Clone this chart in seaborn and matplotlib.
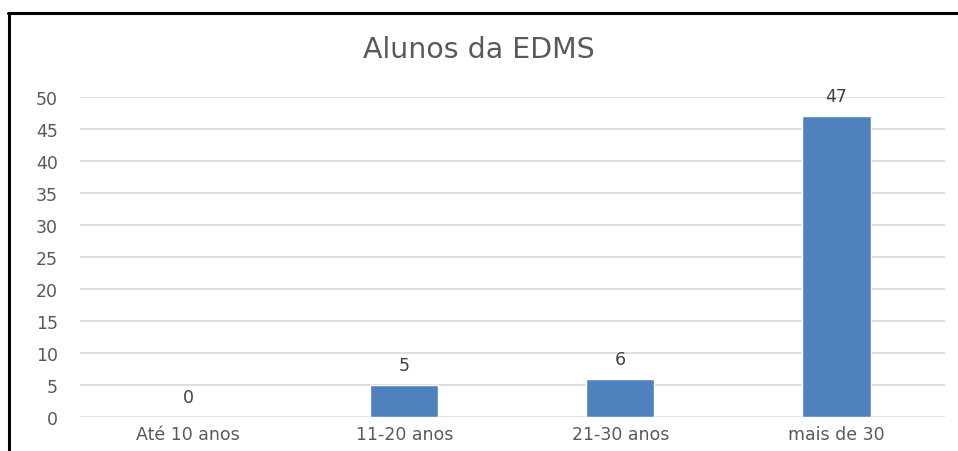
import pandas as pd
import matplotlib.pyplot as plt
import seaborn as sns
from matplotlib.lines import Line2D

categories = ['Até 10 anos', '11-20 anos', '21-30 anos', 'mais de 30']
values = [0, 5, 6, 47]
yticks = [0, 5, 10, 15, 20, 25, 30, 35, 40, 45, 50]

df = pd.DataFrame({'faixa': categories, 'alunos': values})

sns.set_style('white')
plt.rcParams['font.family'] = ['DejaVu Sans']

fig = plt.figure(figsize=(9.58, 4.52), dpi=100)
ax = fig.add_axes([0.0835, 0.0752, 0.9025, 0.708])

sns.barplot(data=df, x='faixa', y='alunos', color='#4F81BD', width=0.315,
            saturation=1, ax=ax, zorder=3)

ax.set_xlim(-0.5, 3.5)
ax.set_ylim(0, 50)
ax.set_yticks(yticks)
ax.yaxis.grid(True, color='#D9D9D9', linewidth=1.2, zorder=0)
ax.set_axisbelow(True)
for s in ax.spines.values():
    s.set_visible(False)
ax.tick_params(axis='both', length=0, labelsize=12.5, colors='#595959')
ax.tick_params(axis='x', pad=6)
ax.tick_params(axis='y', pad=16)
ax.set_xlabel('')
ax.set_ylabel('')

for i, v in enumerate(values):
    ax.text(i, v + 1.7, str(v), ha='center', va='bottom', fontsize=12.5, color='#404040')

fig.text(0.5, 1 - 50 / 452, 'Alunos da EDMS', ha='center', va='center', fontsize=20.5, color='#595959')

# outer frame (top and left only visible)
fig.add_artist(Line2D([8 / 958, 1.0], [1 - 14 / 452, 1 - 14 / 452], color='black', linewidth=2.2,
                      transform=fig.transFigure))
fig.add_artist(Line2D([9 / 958, 9 / 958], [0, 1 - 14 / 452], color='black', linewidth=2.2,
                      transform=fig.transFigure))

plt.savefig('out.png', dpi=100)
plt.close()
